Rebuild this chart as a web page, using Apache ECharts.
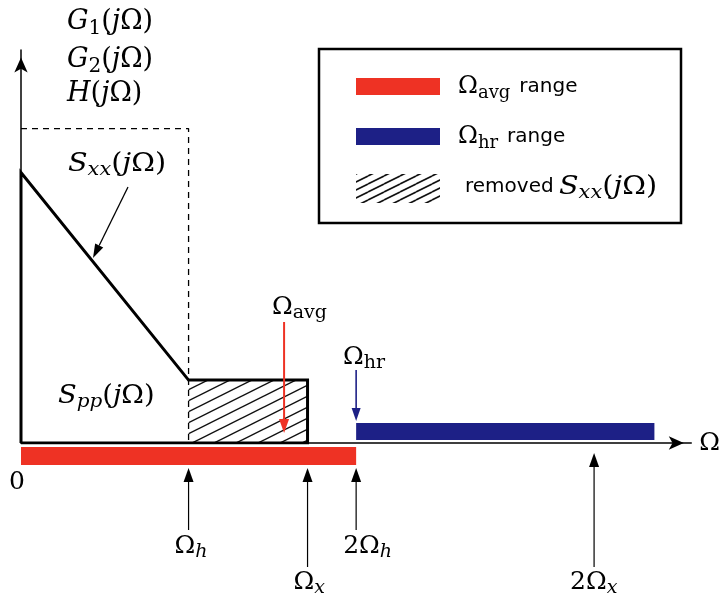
<!DOCTYPE html>
<html>
<head>
<meta charset="utf-8">
<script src="https://cdn.jsdelivr.net/npm/echarts@6/dist/echarts.min.js"></script>
<style>
  html, body { margin: 0; padding: 0; background: #fff; }
  #c { width: 723px; height: 602px; }
</style>
</head>
<body>
<div id="c"></div>
<script>
// Frequency axis measured in units of Ω_h, magnitude normalised to the filter gain.
const sxxX = [0, 0, 1, 1.71, 1.71, 0];
const sxxY = [0, 0.86, 0.2, 0.2, 0, 0];
const filterX = [0, 1, 1];
const filterY = [1, 1, 0];
const removedBand = [1, 1.71];
const removedLevel = 0.2;
const avgRange = [0, 2];
const hrRange = [2, 3.78];
const avgMarker = 1.57;
const hrMarker = 2;
const tickValues = [1, 1.71, 2, 3.42];
const tickLabels = ['{r|Ω}{si|h}', '{r|Ω}{si|x}', '{r|2Ω}{si|h}', '{r|2Ω}{si|x}'];

const MATH = '"DejaVu Serif", "Liberation Serif", serif';
const SANS = '"DejaVu Sans", "Open Sans", sans-serif';
const RED = '#ee3224';
const BLUE = '#1d2086';
const MAROON = '#5e1226';

// rich-text styles for math: r upright, i italic, sr / si subscripts, t plain words
function mathRich(s, color) {
  const L = Math.round(s * 1.3), ss = Math.round(s * 0.74), pad = Math.round(s * 0.5);
  const base = { fontFamily: MATH, fontSize: s, lineHeight: L, color: color };
  const sub = { fontFamily: MATH, fontSize: ss, lineHeight: Math.round(s * 0.72), padding: [pad, 0, 0, 0], color: color };
  return {
    r: base,
    i: Object.assign({}, base, { fontStyle: 'italic' }),
    sr: sub,
    si: Object.assign({}, sub, { fontStyle: 'italic' }),
    t: { fontFamily: SANS, fontSize: 20, lineHeight: L, color: color, padding: [0, 0, 0, 9] }
  };
}

function mathText(x, y, text, size, color, sx) {
  return {
    type: 'text', x: x, y: y, scaleX: sx || 1,
    style: { x: 0, y: 0, text: text, rich: mathRich(size, color || '#000'), align: 'left', verticalAlign: 'middle' }
  };
}

function hatchPattern(w, h, lw) {
  const c = document.createElement('canvas');
  c.width = w; c.height = h;
  const g = c.getContext('2d');
  g.strokeStyle = '#111';
  g.lineWidth = lw;
  [-h, 0, h].forEach(function (dy) {
    g.beginPath(); g.moveTo(0, h + dy); g.lineTo(w, dy); g.stroke();
  });
  return { image: c, repeat: 'repeat' };
}
const HATCH = hatchPattern(22, 11, 1.4);
const HATCH_KEY = hatchPattern(16, 8, 1.6);

function arrowEls(x1, y1, x2, y2, color, lw, headLen, headHalf) {
  const dx = x2 - x1, dy = y2 - y1, d = Math.hypot(dx, dy), ux = dx / d, uy = dy / d;
  const bx = x2 - ux * headLen, by = y2 - uy * headLen;
  return [
    { type: 'line', shape: { x1: x1, y1: y1, x2: bx, y2: by }, style: { stroke: color, lineWidth: lw } },
    { type: 'polygon', shape: { points: [[x2, y2], [bx - uy * headHalf, by + ux * headHalf], [bx + uy * headHalf, by - ux * headHalf]] }, style: { fill: color } }
  ];
}

function zip(xs, ys) { return xs.map(function (x, k) { return [x, ys[k]]; }); }

const chart = echarts.init(document.getElementById('c'), null, { renderer: 'canvas' });

// pixel offsets (from the frequency axis) of the annotation arrows under the axis
const tickLayout = [
  { tip: 25, tail: 87, label: 103, dx: -14 },
  { tip: 25, tail: 124, label: 139, dx: -14 },
  { tip: 25, tail: 87, label: 103, dx: -13 },
  { tip: 10, tail: 124, label: 139, dx: -24 }
];

const option = {
  animation: false,
  backgroundColor: '#fff',
  grid: { left: 21, right: 28, top: 50, bottom: 159 },
  xAxis: {
    type: 'value', min: 0, max: 4,
    axisLine: {
      show: true, onZero: false, symbol: ['none', 'arrow'], symbolSize: [10, 15], symbolOffset: [0, -7.5],
      lineStyle: { color: '#000', width: 1.5 }
    },
    axisTick: { show: false }, axisLabel: { show: false }, splitLine: { show: false },
    name: 'Ω', nameLocation: 'end', nameGap: 8,
    nameTextStyle: { fontFamily: MATH, fontSize: 25, color: '#000', verticalAlign: 'middle' }
  },
  yAxis: {
    type: 'value', min: 0, max: 1.25,
    axisLine: {
      show: true, symbol: ['none', 'arrow'], symbolSize: [10, 15], symbolOffset: [0, -7.5],
      lineStyle: { color: '#000', width: 1.5 }
    },
    axisTick: { show: false }, axisLabel: { show: false }, splitLine: { show: false }
  },
  series: [
    {
      name: 'ranges', type: 'custom', z: 2,
      data: [[avgRange[0], avgRange[1], 0], [hrRange[0], hrRange[1], 1]],
      renderItem: function (params, api) {
        const a = api.coord([api.value(0), 0]), b = api.coord([api.value(1), 0]);
        const below = api.value(2) === 0;
        return {
          type: 'rect',
          shape: below ? { x: a[0], y: a[1] + 4, width: b[0] - a[0], height: 18 }
                       : { x: a[0], y: a[1] - 20, width: b[0] - a[0], height: 17 },
          style: { fill: below ? RED : BLUE }
        };
      }
    },
    {
      name: 'removed', type: 'custom', z: 3,
      data: [[removedBand[0], removedBand[1], removedLevel]],
      renderItem: function (params, api) {
        const a = api.coord([api.value(0), api.value(2)]), b = api.coord([api.value(1), 0]);
        return { type: 'rect', shape: { x: a[0], y: a[1], width: b[0] - a[0], height: b[1] - a[1] }, style: { fill: HATCH } };
      }
    },
    {
      name: 'filter', type: 'line', z: 4, symbol: 'none', silent: true,
      data: zip(filterX, filterY),
      lineStyle: { color: '#000', width: 1.3, type: [6, 5] }
    },
    {
      name: 'Sxx', type: 'line', z: 5, symbol: 'none', silent: true,
      data: zip(sxxX, sxxY),
      lineStyle: { color: '#000', width: 3, join: 'miter' }
    },
    {
      name: 'markers', type: 'custom', z: 6,
      data: [[avgMarker, 0], [hrMarker, 1]],
      renderItem: function (params, api) {
        const p = api.coord([api.value(0), 0]);
        const isAvg = api.value(1) === 0;
        const els = isAvg
          ? arrowEls(p[0], p[1] - 121, p[0], p[1] - 10, RED, 2, 14, 5)
          : arrowEls(p[0], p[1] - 73, p[0], p[1] - 22, BLUE, 1.6, 13, 4.5);
        return { type: 'group', children: els };
      }
    },
    {
      name: 'ticks', type: 'custom', z: 6,
      data: tickValues.map(function (v, k) { return [v, k]; }),
      renderItem: function (params, api) {
        const k = api.value(1);
        const p = api.coord([api.value(0), 0]);
        const L = tickLayout[k];
        const els = arrowEls(p[0], p[1] + L.tail, p[0], p[1] + L.tip, '#000', 1.2, 14, 5);
        els.push(mathText(p[0] + L.dx, p[1] + L.label, tickLabels[k], 25, '#000'));
        return { type: 'group', children: els };
      }
    }
  ],
  graphic: [
    mathText(67, 22, '{i|G}{sr|1}{r|(}{i|j}{r|Ω)}', 27),
    mathText(67, 60, '{i|G}{sr|2}{r|(}{i|j}{r|Ω)}', 27),
    mathText(67, 94, '{i|H}{r|(}{i|j}{r|Ω)}', 27),
    mathText(68, 164, '{i|S}{si|xx}{r|(}{i|j}{r|Ω)}', 26, '#000', 1.1),
    mathText(58, 396, '{i|S}{si|pp}{r|(}{i|j}{r|Ω)}', 26, MAROON, 1.05),
    mathText(272, 307, '{r|Ω}{sr|avg}', 25),
    mathText(343, 357, '{r|Ω}{sr|hr}', 25),
    mathText(9, 482, '{r|0}', 25),
    { type: 'group', children: arrowEls(128, 187, 93, 258, '#000', 1.3, 14, 4.5) },
    // key
    { type: 'rect', shape: { x: 319, y: 49, width: 362, height: 174 }, style: { fill: '#fff', stroke: '#000', lineWidth: 2.5 } },
    { type: 'rect', shape: { x: 356, y: 78, width: 84, height: 17 }, style: { fill: RED } },
    { type: 'rect', shape: { x: 356, y: 128, width: 84, height: 17 }, style: { fill: BLUE } },
    { type: 'rect', shape: { x: 356, y: 174, width: 84, height: 29 }, style: { fill: HATCH_KEY } },
    mathText(458, 87, '{r|Ω}{sr|avg}{t|range}', 24),
    mathText(458, 137, '{r|Ω}{sr|hr}{t|range}', 24),
    mathText(456, 187, '{t|removed}', 24),
    mathText(559, 187, '{i|S}{si|xx}{r|(}{i|j}{r|Ω)}', 26, '#000', 1.1)
  ]
};
chart.setOption(option);
</script>
</body>
</html>
